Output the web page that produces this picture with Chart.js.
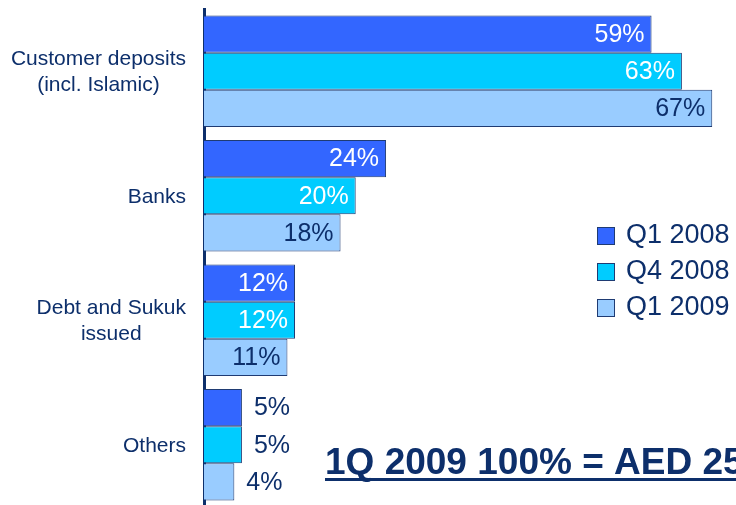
<!DOCTYPE html>
<html>
<head>
<meta charset="utf-8">
<script src="https://cdn.jsdelivr.net/npm/chart.js@4"></script>
<style>
  html, body { margin: 0; padding: 0; background: #fff; overflow: hidden; }
</style>
</head>
<body>
<canvas id="fundingChart" width="736" height="510"></canvas>
<script>
// Funding mix by source, share of total (%)
const categories = [
    ['Customer deposits', '(incl. Islamic)'],
    ['Banks'],
    ['Debt and Sukuk', 'issued'],
    ['Others']
];
const seriesNames = ['Q1 2008', 'Q4 2008', 'Q1 2009'];
const q1_2008 = [59, 24, 12, 5];
const q4_2008 = [63, 20, 12, 5];
const q1_2009 = [67, 18, 11, 4];
const titleText = '1Q 2009 100% = AED 25';

const NAVY = '#0D2F6B';
const FONT = '"Liberation Sans", Arial, sans-serif';
const colors = ['#3366FF', '#00CCFF', '#99CCFF'];
const labelColors = ['#FFFFFF', '#FFFFFF', NAVY];

// draws category labels, value labels, legend and the title
const annotations = {
    id: 'annotations',
    afterDatasetsDraw(chart) {
        const ctx = chart.ctx;
        const yScale = chart.scales.y;
        ctx.save();

        // category labels: block right-aligned, lines centred on each other
        ctx.font = '21px ' + FONT;
        ctx.fillStyle = NAVY;
        ctx.textBaseline = 'middle';
        ctx.textAlign = 'center';
        const lineH = 26;
        categories.forEach((lines, i) => {
            const cy = yScale.getPixelForValue(i) + 1;
            const widest = Math.max(...lines.map(l => ctx.measureText(l).width));
            const cx = 186 - widest / 2;
            lines.forEach((l, j) => {
                ctx.fillText(l, cx, cy + (j - (lines.length - 1) / 2) * lineH);
            });
        });

        // value labels
        ctx.font = '25px ' + FONT;
        chart.data.datasets.forEach((ds, di) => {
            chart.getDatasetMeta(di).data.forEach((bar, i) => {
                const v = ds.data[i];
                const txt = v + '%';
                if (v >= 8) {
                    ctx.textAlign = 'right';
                    ctx.fillStyle = labelColors[di];
                    ctx.fillText(txt, bar.x - 7, bar.y + 1);
                } else {
                    ctx.textAlign = 'left';
                    ctx.fillStyle = NAVY;
                    ctx.fillText(txt, bar.x + 12, bar.y + 1);
                }
            });
        });

        // legend
        ctx.font = '27px ' + FONT;
        ctx.textAlign = 'left';
        seriesNames.forEach((name, i) => {
            const y = 236 + i * 36;
            ctx.fillStyle = colors[i];
            ctx.fillRect(597, y - 9, 17, 17);
            ctx.strokeStyle = '#1F3B73';
            ctx.lineWidth = 1;
            ctx.strokeRect(597.5, y - 8.5, 17, 17);
            ctx.fillStyle = NAVY;
            ctx.fillText(name, 626, y);
        });

        // underlined title
        ctx.font = 'bold 37px ' + FONT;
        ctx.textBaseline = 'alphabetic';
        ctx.fillStyle = NAVY;
        ctx.fillText(titleText, 325, 474);
        ctx.fillRect(325, 478, 420, 3);

        ctx.restore();
    }
};

const ctx = document.getElementById('fundingChart').getContext('2d');
const fundingChart = new Chart(ctx, {
    type: 'bar',
    data: {
        labels: categories,
        datasets: [
            { label: seriesNames[0], data: q1_2008, backgroundColor: colors[0] },
            { label: seriesNames[1], data: q4_2008, backgroundColor: colors[1] },
            { label: seriesNames[2], data: q1_2009, backgroundColor: colors[2] }
        ].map(ds => Object.assign(ds, {
            borderColor: '#1F3B73',
            borderWidth: 1,
            borderSkipped: 'left',
            barPercentage: 1,
            categoryPercentage: 0.895
        }))
    },
    options: {
        indexAxis: 'y',
        responsive: false,
        animation: false,
        layout: { padding: { left: 204, right: 1, top: 9, bottom: 3 } },
        plugins: {
            legend: { display: false },
            tooltip: { enabled: false }
        },
        scales: {
            x: {
                display: false,
                min: 0,
                max: 70
            },
            y: {
                display: true,
                ticks: { display: false },
                grid: { display: false, drawTicks: false, tickLength: 0 },
                border: { display: true, color: NAVY, width: 3 }
            }
        }
    },
    plugins: [annotations]
});
</script>
</body>
</html>
